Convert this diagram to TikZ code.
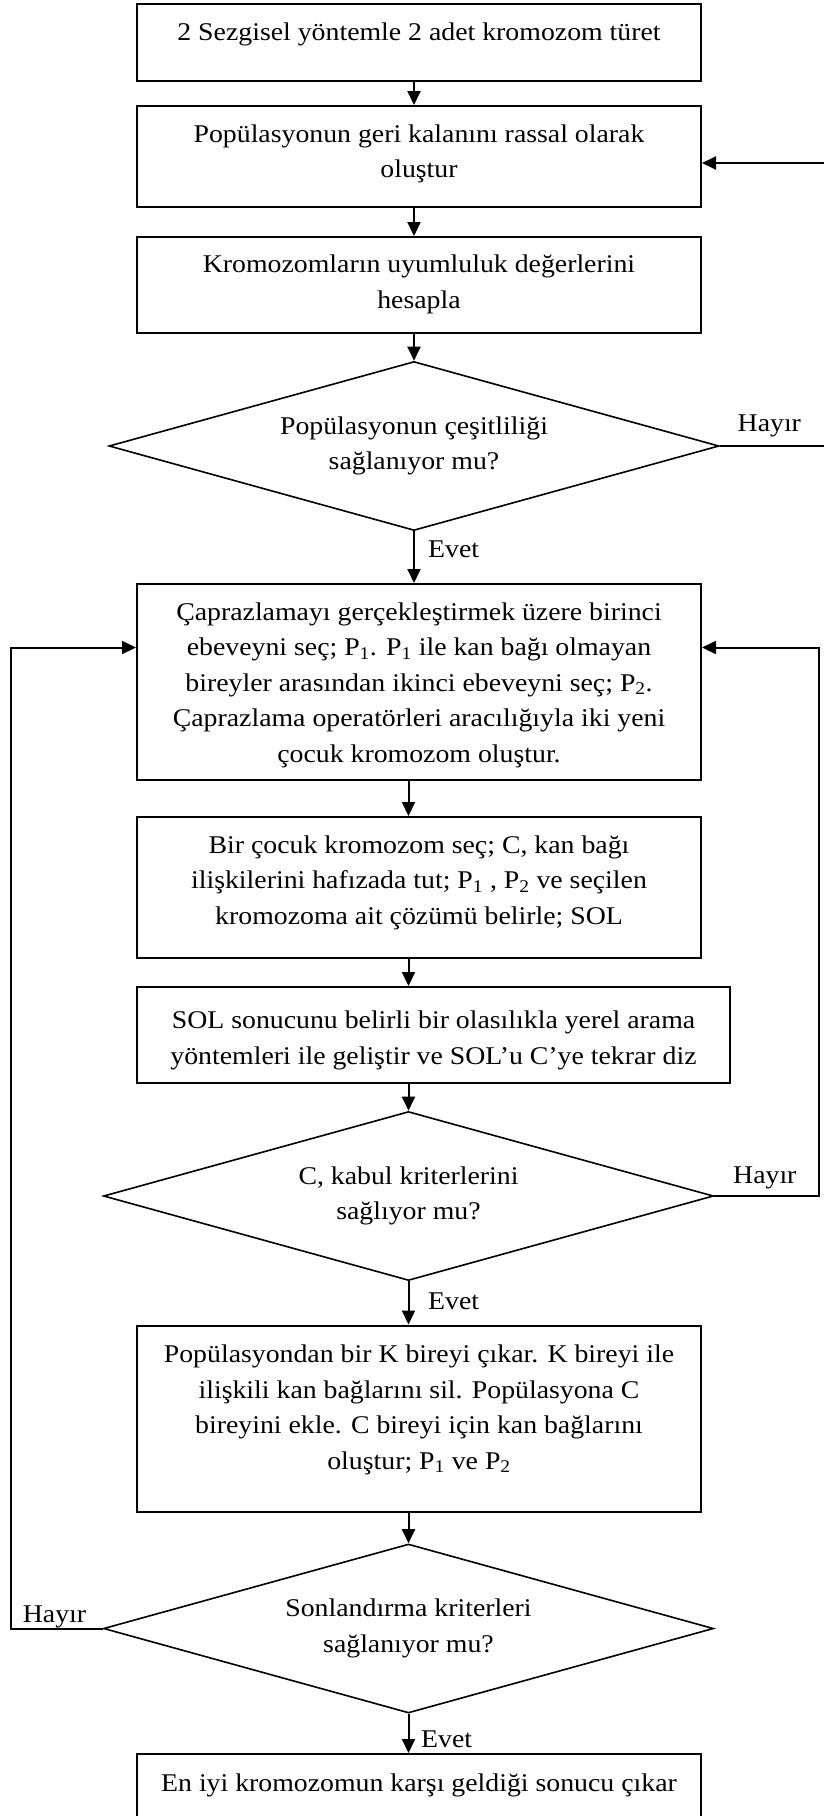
\documentclass[tikz,border=0pt]{standalone}
\usepackage{fontspec}
\setmainfont{Liberation Serif}[FakeStretch=1.09]
\usetikzlibrary{arrows.meta,shapes.geometric,calc}
\newcommand\flowfont{\fontsize{25.5}{35.5}\selectfont}

\begin{document}
\begin{tikzpicture}[x=1pt,y=-1pt,
  box/.style={draw, line width=2pt, rectangle, inner sep=0pt, minimum width=564pt},
  decision/.style={draw, line width=1.6pt, diamond, aspect=3.6, inner sep=0pt,
    minimum width=610pt, minimum height=169pt, align=center, font=\flowfont},
  txt/.style={align=center, inner sep=0pt, font=\flowfont, anchor=base},
  lbl/.style={inner sep=0pt, font=\flowfont, anchor=base west},
  flow/.style={line width=2pt, -{Triangle[length=14pt,width=13pt]}},
]
\useasboundingbox (0,0) rectangle (823,1816);

% process boxes
\node[box, minimum height=77pt]  (b1) at (419,42.5) {};
\node[box, minimum height=101pt] (b2) at (419,156.5) {};
\node[box, minimum height=96pt]  (b3) at (419,285) {};
\node[box, minimum height=196pt] (b4) at (419,682) {};
\node[box, minimum height=141pt] (b5) at (419,887.5) {};
\node[box, minimum width=593pt, minimum height=96pt] (b6) at (433.5,1035) {};
\node[box, minimum height=186.5pt] (b7) at (419,1418.75) {};
\node[box, minimum height=77pt]  (b8) at (419,1792.5) {};

% box texts (placed by the baseline of their last line)
\node[txt] (t1) at (419,40) {2 Sezgisel yöntemle 2 adet kromozom türet};
\node[txt] (t2) at (419,177.5) {Popülasyonun geri kalanını rassal olarak\\oluştur};
\node[txt] (t3) at (419,308) {Kromozomların uyumluluk değerlerini\\hesapla};
\node[txt] (t4) at (419,762) {Çaprazlamayı gerçekleştirmek üzere birinci\\
  ebeveyni seç; P\textsubscript{1}. P\textsubscript{1} ile kan bağı olmayan\\
  bireyler arasından ikinci ebeveyni seç; P\textsubscript{2}.\\
  Çaprazlama operatörleri aracılığıyla iki yeni\\
  çocuk kromozom oluştur.};
\node[txt] (t5) at (419,924) {Bir çocuk kromozom seç; C, kan bağı\\
  ilişkilerini hafızada tut; P\textsubscript{1} , P\textsubscript{2} ve seçilen\\
  kromozoma ait çözümü belirle; SOL};
\node[txt] (t6) at (433.5,1064) {SOL sonucunu belirli bir olasılıkla yerel arama\\
  yöntemleri ile geliştir ve SOL’u C’ye tekrar diz};
\node[txt] (t7) at (419,1469) {Popülasyondan bir K bireyi çıkar. K bireyi ile\\
  ilişkili kan bağlarını sil. Popülasyona C\\
  bireyini ekle. C bireyi için kan bağlarını\\
  oluştur; P\textsubscript{1} ve P\textsubscript{2}};
\node[txt] (t8) at (419,1791) {En iyi kromozomun karşı geldiği sonucu çıkar};

% decisions
\node[decision] (d1) at (414,446) {Popülasyonun çeşitliliği\\sağlanıyor mu?};
\node[decision] (d2) at (408.5,1196) {C, kabul kriterlerini\\sağlıyor mu?};
\node[decision] (d3) at (408.5,1628.5) {Sonlandırma kriterleri\\sağlanıyor mu?};

% main flow
\draw[flow] (b1.south -| d1.north) -- (b2.north -| d1.north);
\draw[flow] (b2.south -| d1.north) -- (b3.north -| d1.north);
\draw[flow] (b3.south -| d1.north) -- (d1.north);
\draw[flow] (d1.south) -- (b4.north -| d1.south);
\draw[flow] (b4.south -| d2.north) -- (b5.north -| d2.north);
\draw[flow] (b5.south -| d2.north) -- (b6.north -| d2.north);
\draw[flow] (b6.south -| d2.north) -- (d2.north);
\draw[flow] (d2.south) -- (b7.north -| d2.south);
\draw[flow] (b7.south -| d3.north) -- (d3.north);
\draw[flow] (d3.south) -- (b8.north -| d3.south);

% feedback loops
\coordinate (r1) at (828,0);
\coordinate (r2) at (819,0);
\coordinate (l3) at (11,0);
\coordinate (in2) at ($(b2.east)+(0,6.5)$);
\coordinate (in4r) at ($(b4.east)+(0,-34.5)$);
\coordinate (in4l) at ($(b4.west)+(0,-34.5)$);
\draw[flow] (d1.east) -- (d1.east -| r1) |- (in2);
\draw[flow] (d2.east) -- (d2.east -| r2) |- (in4r);
\draw[flow] (d3.west) -- (d3.west -| l3) |- (in4l);

% branch labels
\node[lbl] (h1) at (737.5,431) {Hayır};
\node[lbl] (h2) at (733,1183) {Hayır};
\node[lbl] (h3) at (22.7,1622) {Hayır};
\node[lbl] (e1) at (428,557) {Evet};
\node[lbl] (e2) at (428,1309) {Evet};
\node[lbl] (e3) at (421,1747) {Evet};
\end{tikzpicture}
\end{document}
